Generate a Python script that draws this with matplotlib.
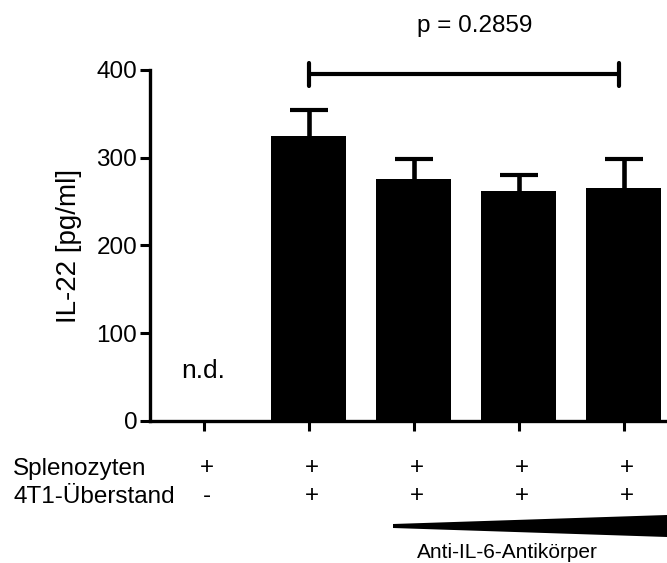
import numpy as np
import matplotlib; matplotlib.use("Agg")
import matplotlib.pyplot as plt
from matplotlib.transforms import blended_transform_factory
from matplotlib.patches import Polygon

plt.rcParams["font.family"] = ["Liberation Sans", "DejaVu Sans"]

# data
groups = ["A", "B", "C", "D", "E"]
means = [0, 325, 276, 262, 266]          # first group: n.d.
err_up = [0, 29, 23, 18, 33]
spleno = ["+", "+", "+", "+", "+"]
ueberstand = ["-", "+", "+", "+", "+"]
yticks = [0, 100, 200, 300, 400]
p_text = "p = 0.2859"
sig_pair = (1, 3.96)
sig_y = 395

W, H = 667, 563
fig = plt.figure(figsize=(W / 100, H / 100), dpi=100)
ax = fig.add_axes([150 / W, 142.2 / H, 517 / W, 350.8 / H])
x = np.arange(len(groups))

ax.bar(x[1:], means[1:], width=0.71, color="black", edgecolor="black", lw=0)
eb = ax.errorbar(x[1:], means[1:], yerr=[np.zeros(4), err_up[1:]], fmt="none", ecolor="black",
                 elinewidth=3.3, capsize=14, capthick=3.0)
eb[1][0].set_visible(False)   # no lower caps
ax.text(x[0], 49, "n.d.", ha="center", va="baseline", fontsize=19)

ax.set_xlim(-0.51, 4.414)
ax.set_ylim(0, 400)
ax.set_yticks(yticks)
ax.set_xticks(x)
ax.set_xticklabels([""] * len(x))
for s in ["top", "right"]:
    ax.spines[s].set_visible(False)
for s in ["left", "bottom"]:
    ax.spines[s].set_linewidth(2.4)
ax.tick_params(axis="both", width=2.2, length=7.2, labelsize=17.5, pad=2)
fig.text(69 / W, 1 - 246 / H, "IL-22 [pg/ml]", rotation=90, ha="center", va="center", fontsize=20)

# significance bar
ax.plot(sig_pair, [sig_y, sig_y], color="black", lw=3.0, solid_capstyle="round", clip_on=False)
for xx in sig_pair:
    ax.plot([xx, xx], [sig_y - 13, sig_y + 13], color="black", lw=3.0,
            solid_capstyle="round", clip_on=False)
fig.text(474.5 / W, 1 - 31.7 / H, p_text, ha="center", va="baseline", fontsize=17.5)

# condition rows
tr = blended_transform_factory(ax.transData, fig.transFigure)
for i in range(len(groups)):
    ax.text(x[i] + 0.03, 1 - 474 / H, spleno[i], transform=tr, ha="center", va="baseline", fontsize=17.5)
    ax.text(x[i] + 0.03, 1 - 502 / H, ueberstand[i], transform=tr, ha="center", va="baseline", fontsize=17.5)
fig.text(13 / W, 1 - 475 / H, "Splenozyten", ha="left", va="baseline", fontsize=17.5)
fig.text(13 / W, 1 - 503.3 / H, "4T1-Überstand", ha="left", va="baseline", fontsize=17.5)

# antibody gradient wedge
tri = Polygon([(393 / W, 1 - 524 / H), (393 / W, 1 - 528 / H),
               (1.0, 1 - 537 / H), (1.0, 1 - 515 / H)],
              closed=True, transform=fig.transFigure, color="black", lw=0)
fig.patches.append(tri)
fig.text(507.5 / W, 1 - 558.3 / H, "Anti-IL-6-Antikörper", ha="center", va="baseline", fontsize=15)

fig.savefig("out.png", dpi=100)
